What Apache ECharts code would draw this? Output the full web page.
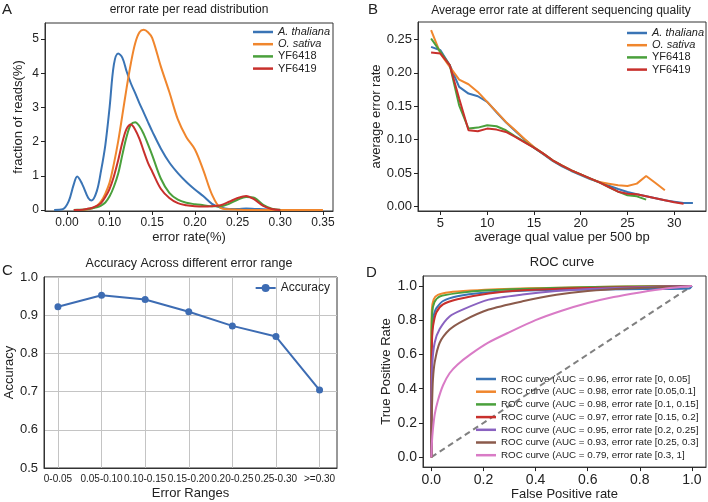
<!DOCTYPE html>
<html>
<head>
<meta charset="utf-8">
<script src="https://cdn.jsdelivr.net/npm/echarts@6/dist/echarts.min.js"></script>
<style>
html, body { margin: 0; padding: 0; background: #fff; }
#main { width: 708px; height: 502px; }
</style>
</head>
<body>
<div id="main"></div>
<script>
// ---- panel A : error rate per read distribution
var errX = [0.035,0.045,0.052,0.058,0.062,0.068,0.075,0.079,0.085,0.09,
            0.095,0.1,0.105,0.11,0.115,0.12,0.125,0.13,0.135,0.14,
            0.145,0.15,0.16,0.17,0.18,0.19,0.2,0.21,0.22,0.23,
            0.24,0.25,0.26,0.27,0.28,0.29,0.3,0.32,0.35];
var densThaliana = [0,0.02,0.25,0.75,0.98,0.75,0.35,0.28,0.55,1.15,
                    1.9,3.0,4.25,4.58,4.45,4.05,3.7,3.42,3.12,2.85,
                    2.57,2.3,1.8,1.39,1.08,0.82,0.6,0.4,0.18,0.07,
                    0.03,0.03,0.04,0.03,0.02,0.01,0,0,null];
var densSativa = [null,null,null,null,0,0,0.02,0.04,0.12,0.25,
                  0.48,0.8,1.35,2.0,2.78,3.58,4.3,4.88,5.2,5.27,
                  5.2,5.03,4.2,3.45,2.65,2.13,1.77,1.15,0.45,0.06,
                  0.02,0.01,0,0,0,0,0,0,0];
var dens6418 = [null,null,null,0,0.005,0.01,0.03,0.05,0.08,0.13,
                0.22,0.4,0.68,1.06,1.62,2.15,2.5,2.57,2.45,2.22,
                1.92,1.6,0.92,0.5,0.3,0.21,0.17,0.14,0.11,0.11,
                0.18,0.3,0.38,0.35,0.15,0.04,0.01,null,null];
var dens6419 = [null,null,null,0,0,0.01,0.04,0.06,0.12,0.2,
                0.38,0.62,0.98,1.45,1.98,2.38,2.5,2.35,2.08,1.72,
                1.38,1.12,0.62,0.35,0.2,0.14,0.11,0.1,0.11,0.14,
                0.24,0.35,0.41,0.3,0.12,0.03,0,null,null];
var tickValsA = [0.05,0.10,0.15,0.20,0.25,0.30,0.35];
var tickLabelsA = ['0.00','0.10','0.15','0.20','0.25','0.30','0.35'];

// ---- panel B : average error rate vs quality
var qualX = [4,5,6,7,8,9,10,11,12,13,14,15,16,17,18,19,20,21,22,23,24,25,26,27,28,29,30,31,32];
var errThaliana = [0.239,0.234,0.2115,0.179,0.169,0.165,0.1565,0.141,0.126,0.113,0.100,0.088,0.078,0.068,0.060,0.053,0.047,0.041,0.036,0.031,0.026,0.0215,0.018,0.015,0.012,0.009,0.007,0.005,0.005];
var errSativa = [0.264,0.229,0.209,0.19,0.183,0.1715,0.1565,0.1415,0.1265,0.114,0.101,0.089,0.079,0.069,0.0615,0.054,0.048,0.0415,0.0365,0.034,0.0315,0.0305,0.034,0.0455,0.035,0.024];
var err6418 = [0.2515,0.2315,0.2115,0.1515,0.1165,0.118,0.1215,0.12,0.114,0.105,0.0965,0.088,0.079,0.069,0.061,0.054,0.048,0.042,0.036,0.029,0.022,0.0165,0.015,0.01];
var err6419 = [0.2305,0.229,0.2115,0.1615,0.114,0.1125,0.1165,0.115,0.1115,0.104,0.096,0.088,0.079,0.069,0.061,0.054,0.048,0.042,0.036,0.029,0.022,0.019,0.018,0.015,0.012,0.009,0.006,0.004];

// ---- panel C : accuracy per error range
var rangeNames = ['0-0.05','0.05-0.10','0.10-0.15','0.15-0.20','0.20-0.25','0.25-0.30','>=0.30'];
var accuracy = [0.922,0.952,0.941,0.909,0.872,0.844,0.704];

// ---- panel D : ROC curves  [fpr, tpr]
var roc1 = [[0,0],[0,0.45],[0.002,0.68],[0.006,0.8],[0.012,0.845],[0.02,0.872],[0.045,0.912],[0.1,0.94],[0.2,0.96],[0.35,0.972],[0.5,0.977],[0.75,0.981],[0.99,0.985],[1,1]];
var roc2 = [[0,0],[0,0.6],[0.002,0.86],[0.009,0.922],[0.025,0.948],[0.07,0.963],[0.15,0.973],[0.25,0.981],[0.5,0.99],[0.75,0.996],[1,1]];
var roc3 = [[0,0],[0,0.55],[0.003,0.84],[0.012,0.905],[0.032,0.938],[0.1,0.958],[0.22,0.975],[0.5,0.99],[0.75,0.996],[1,1]];
var roc4 = [[0,0],[0,0.45],[0.003,0.7],[0.007,0.77],[0.019,0.845],[0.045,0.892],[0.1,0.922],[0.22,0.956],[0.35,0.975],[0.6,0.988],[1,1]];
var roc5 = [[0,0],[0,0.3],[0.004,0.55],[0.013,0.67],[0.032,0.748],[0.07,0.822],[0.12,0.862],[0.22,0.92],[0.35,0.95],[0.48,0.97],[0.7,0.988],[1,1]];
var roc6 = [[0,0],[0,0.15],[0.003,0.32],[0.006,0.45],[0.013,0.555],[0.032,0.668],[0.07,0.745],[0.12,0.795],[0.22,0.862],[0.35,0.91],[0.48,0.948],[0.6,0.97],[0.75,0.985],[1,1]];
var roc7 = [[0,0],[0.002,0.08],[0.006,0.16],[0.013,0.25],[0.025,0.33],[0.045,0.42],[0.07,0.49],[0.1,0.54],[0.15,0.6],[0.22,0.67],[0.3,0.73],[0.4,0.8],[0.5,0.855],[0.6,0.9],[0.7,0.935],[0.8,0.962],[0.9,0.985],[1,1]];
var rocNames = [
    'ROC curve (AUC = 0.96, error rate [0, 0.05]',
    'ROC curve (AUC = 0.98, error rate [0.05,0.1]',
    'ROC curve (AUC = 0.98, error rate [0.1, 0.15]',
    'ROC curve (AUC = 0.97, error rate [0.15, 0.2]',
    'ROC curve (AUC = 0.95, error rate [0.2, 0.25]',
    'ROC curve (AUC = 0.93, error rate [0.25, 0.3]',
    'ROC curve (AUC = 0.79, error rate [0.3, 1]'
];
var tickVals01 = [0,0.2,0.4,0.6,0.8,1.0];

var speciesNames = ['A. thaliana','O. sativa','YF6418','YF6419'];
var colors = ['#3a74b5','#f0862d','#4aa03c','#c8302c','#8a62c0','#8b5a4b','#d97bc6'];
var FONT = 'Liberation Sans';
var TXT = '#222';

function pairs(xs, ys) {
    var out = [];
    for (let i = 0; i < ys.length; i++) {
        if (ys[i] != null) out.push([xs[i], ys[i]]);
    }
    return out;
}

function valAxis(grid, min, max, ticks, fmt, size, name, gap) {
    return {
        type: 'value', gridIndex: grid, min: min, max: max,
        axisLine: {show: true, onZero: false, lineStyle: {color: '#333', width: 1}},
        splitLine: {show: false},
        axisTick: {show: true, customValues: ticks, length: 4, lineStyle: {color: '#222', width: 1}},
        axisLabel: {customValues: ticks, formatter: fmt, fontSize: size, color: TXT, fontFamily: FONT, margin: 6},
        name: name, nameLocation: 'middle', nameGap: gap,
        nameTextStyle: {fontSize: 13, color: TXT, fontFamily: FONT}
    };
}

function legendStyle(extra) {
    var base = {
        orient: 'vertical', itemWidth: 20, itemHeight: 2.5, itemGap: 0.2, padding: 0, icon: 'rect',
        textStyle: {fontSize: 11, color: TXT, fontFamily: FONT, lineHeight: 12,
            rich: {i: {fontStyle: 'italic', fontSize: 11, fontFamily: FONT, color: TXT, lineHeight: 12}}},
        formatter: function (n) { return (n == 'A. thaliana' || n == 'O. sativa') ? '{i|' + n + '}' : n; }
    };
    return Object.assign(base, extra);
}

var gridBox = {show: true, borderColor: '#333', borderWidth: 1, containLabel: false};

var fmtA = function (v) {
    for (let i = 0; i < tickValsA.length; i++) {
        if (Math.abs(tickValsA[i] - v) < 1e-6) return tickLabelsA[i];
    }
    return '';
};
var fmtC = function (v) { return rangeNames[Math.round(v)]; };

var series = [];
var densAll = [densThaliana, densSativa, dens6418, dens6419];
for (let i = 0; i < 4; i++) {
    series.push({
        type: 'line', name: speciesNames[i], xAxisIndex: 0, yAxisIndex: 0,
        data: pairs(errX, densAll[i]), symbol: 'none', smooth: 0.35,
        lineStyle: {width: 2, color: colors[i]}, itemStyle: {color: colors[i]}
    });
}
var errAll = [errThaliana, errSativa, err6418, err6419];
for (let i = 0; i < 4; i++) {
    series.push({
        type: 'line', name: speciesNames[i], xAxisIndex: 1, yAxisIndex: 1,
        data: pairs(qualX, errAll[i]), symbol: 'none',
        lineStyle: {width: 2, color: colors[i]}, itemStyle: {color: colors[i]}
    });
}
series.push({
    type: 'line', name: 'Accuracy', xAxisIndex: 2, yAxisIndex: 2,
    data: accuracy.map(function (a, i) { return [i, a]; }),
    symbol: 'circle', symbolSize: 7,
    lineStyle: {width: 2, color: '#3d6cb3'}, itemStyle: {color: '#3d6cb3'}
});
var rocAll = [roc1, roc2, roc3, roc4, roc5, roc6, roc7];
for (let i = 0; i < 7; i++) {
    series.push({
        type: 'line', name: rocNames[i], xAxisIndex: 3, yAxisIndex: 3,
        data: rocAll[i], symbol: 'none', smooth: 0.25,
        lineStyle: {width: 2, color: colors[i]}, itemStyle: {color: colors[i]}
    });
}
series.push({
    type: 'line', name: 'chance', xAxisIndex: 3, yAxisIndex: 3,
    data: [[0,0],[1,1]], symbol: 'none', z: 1,
    lineStyle: {width: 2, color: '#808080', type: [6, 4]}
});

function title(text, x, y, size, align) {
    return {text: text, left: x, top: y, textAlign: align || 'left', padding: 0,
        textStyle: {fontSize: size, fontWeight: 'normal', color: TXT, fontFamily: FONT}};
}

var option = {
    animation: false,
    backgroundColor: '#fff',
    textStyle: {fontFamily: FONT},
    title: [
        title('A', 2, 2, 15), title('B', 368, 2, 15), title('C', 2, 263, 15), title('D', 366, 265, 15),
        title('error rate per read distribution', 189, 4, 12, 'center'),
        title('Average error rate at different sequencing quality', 561, 5, 12, 'center'),
        title('Accuracy Across different error range', 189, 257, 12.5, 'center'),
        title('ROC curve', 562, 256, 13, 'center')
    ],
    grid: [
        Object.assign({left: 45, top: 23, width: 288, height: 188}, gridBox),
        Object.assign({left: 418, top: 22, width: 288, height: 189}, gridBox),
        Object.assign({left: 44, top: 277, width: 293, height: 191}, gridBox),
        Object.assign({left: 423, top: 276, width: 283, height: 193}, gridBox)
    ],
    xAxis: [
        valAxis(0, 0.0243, 0.3618, tickValsA, fmtA, 12, 'error rate(%)', 20),
        valAxis(1, 2.6, 33.4, [5,10,15,20,25,30], null, 13, 'average qual value per 500 bp', 17),
        Object.assign(valAxis(2, -0.32, 6.4, [0,1,2,3,4,5,6], fmtC, 10, 'Error Ranges', 19), {
            axisTick: {show: false, customValues: [0,1,2,3,4,5,6]},
            splitLine: {show: true, lineStyle: {color: '#c4c4c4', width: 1}}
        }),
        valAxis(3, -0.032, 1.054, tickVals01, function (v) { return v.toFixed(1); }, 14, 'False Positive rate', 14)
    ],
    yAxis: [
        valAxis(0, -0.03, 5.47, [0,1,2,3,4,5], null, 12, 'fraction of reads(%)', 20),
        valAxis(1, -0.007, 0.2763, [0,0.05,0.1,0.15,0.2,0.25], function (v) { return v.toFixed(2); }, 13, 'average error rate', 32),
        Object.assign(valAxis(2, 0.5, 1.0, null, function (v) { return v.toFixed(1); }, 13, 'Accuracy', 25), {
            interval: 0.1,
            axisTick: {show: false},
            axisLabel: {formatter: function (v) { return v.toFixed(1); }, fontSize: 13, color: TXT, fontFamily: FONT, margin: 6},
            splitLine: {show: true, lineStyle: {color: '#c4c4c4', width: 1}}
        }),
        valAxis(3, -0.058, 1.058, tickVals01, function (v) { return v.toFixed(1); }, 14, 'True Positive Rate', 30)
    ],
    legend: [
        legendStyle({data: speciesNames, right: 378, top: 26}),
        legendStyle({data: speciesNames, right: 4, top: 27}),
        {data: ['Accuracy'], right: 378, top: 282, itemWidth: 20, itemHeight: 10, padding: 0,
            textStyle: {fontSize: 12, color: TXT, fontFamily: FONT}},
        {data: rocNames, orient: 'vertical', left: 476, top: 373, itemWidth: 20, itemHeight: 2.5, itemGap: 0.7,
            padding: 0, icon: 'rect',
            textStyle: {fontSize: 9.8, color: TXT, fontFamily: FONT, lineHeight: 12}}
    ],
    series: series
};

var myChart = echarts.init(document.getElementById('main'));
myChart.setOption(option);
</script>
</body>
</html>
